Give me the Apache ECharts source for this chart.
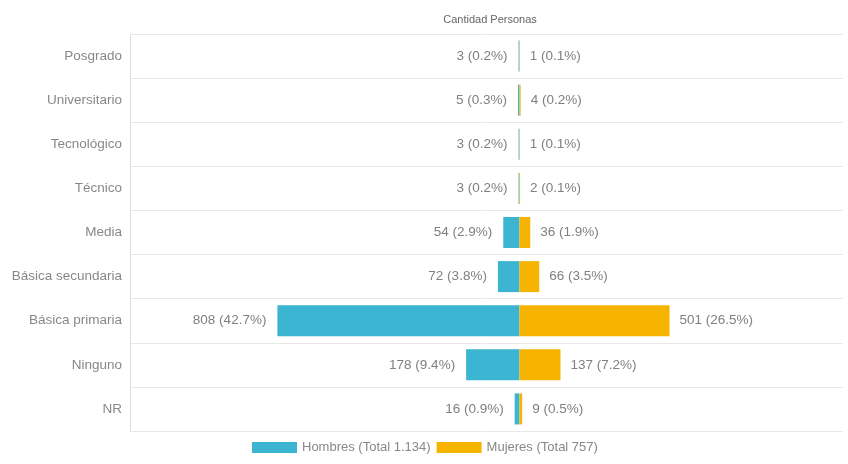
<!DOCTYPE html>
<html>
<head>
<meta charset="utf-8">
<script src="https://cdn.jsdelivr.net/npm/echarts@6/dist/echarts.min.js"></script>
<style>
  html, body { margin: 0; padding: 0; background: #fff; }
  #main_container { width: 848px; height: 464px; }
</style>
</head>
<body>
<div id="main_container"></div>
<script>
// datos
var niveles = ["Posgrado", "Universitario", "Tecnológico", "Técnico", "Media",
  "Básica secundaria", "Básica primaria", "Ninguno", "NR"];
var hombres = [3, 5, 3, 3, 54, 72, 808, 178, 16];
var hombresPct = ["0.2", "0.3", "0.2", "0.2", "2.9", "3.8", "42.7", "9.4", "0.9"];
var mujeres = [1, 4, 1, 2, 36, 66, 501, 137, 9];
var mujeresPct = ["0.1", "0.2", "0.1", "0.1", "1.9", "3.5", "26.5", "7.2", "0.5"];
var leyenda = ["Hombres (Total 1.134)", "Mujeres (Total 757)"];

var myChart = echarts.init(document.getElementById("main_container"));
myChart.setOption({
  animation: false,
  textStyle: { fontFamily: "Liberation Sans, Arial, sans-serif" },
  title: {
    text: "Cantidad Personas",
    left: 485,
    top: 9,
    textAlign: "center",
    textStyle: { fontSize: 11, fontWeight: "normal", color: "#666" },
  },
  legend: {
    data: leyenda,
    bottom: 5,
    left: 247,
    itemWidth: 45,
    itemHeight: 11,
    itemGap: 6,
    icon: "rect",
    textStyle: { fontSize: 13, color: "#888" },
  },
  grid: { left: 130, right: 5, top: 34, bottom: 33 },
  xAxis: {
    type: "value",
    min: -1300,
    max: 1080,
    show: false,
  },
  yAxis: {
    type: "category",
    inverse: true,
    data: niveles,
    axisLine: { show: true, onZero: false, lineStyle: { color: "#ddd" } },
    axisTick: { show: false },
    axisLabel: { fontSize: 13.5, color: "#888", margin: 8 },
    splitLine: { show: true, lineStyle: { color: "#e8e8e8" } },
  },
  series: [
    {
      name: leyenda[0],
      type: "bar",
      stack: "total",
      barWidth: 31,
      itemStyle: { color: "#3bb5d1" },
      label: {
        show: true,
        position: "left",
        fontSize: 13.5,
        color: "#808080",
        distance: 11,
        formatter: function (p) {
          return hombres[p.dataIndex] + " (" + hombresPct[p.dataIndex] + "%)";
        },
      },
      data: hombres.map(function (v) { return -v; }),
    },
    {
      name: leyenda[1],
      type: "bar",
      stack: "total",
      barWidth: 31,
      itemStyle: { color: "#f6b400" },
      label: {
        show: true,
        position: "right",
        fontSize: 13.5,
        color: "#808080",
        distance: 10,
        formatter: function (p) {
          return mujeres[p.dataIndex] + " (" + mujeresPct[p.dataIndex] + "%)";
        },
      },
      data: mujeres,
    },
  ],
});
</script>
</body>
</html>
